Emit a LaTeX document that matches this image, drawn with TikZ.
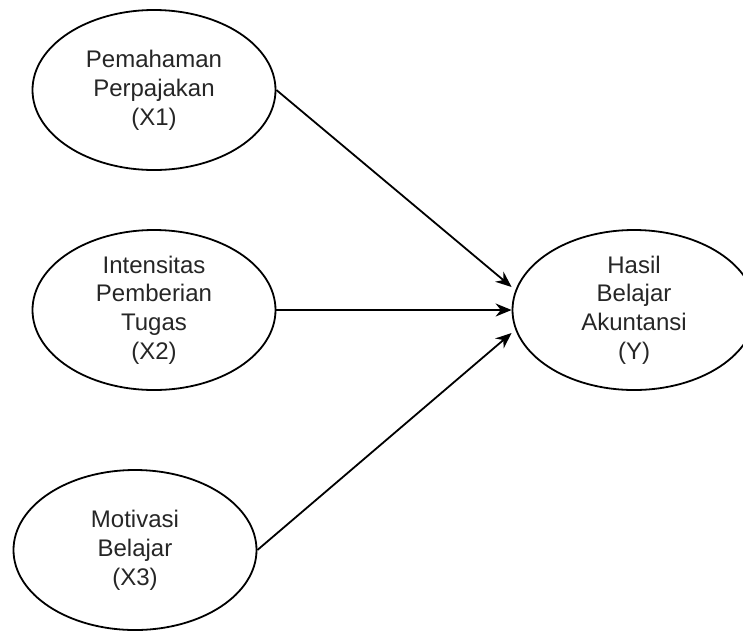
\documentclass[tikz,border=0pt]{standalone}
\usepackage{fontspec}
\setmainfont{Liberation Sans}
\usetikzlibrary{shapes.geometric,arrows.meta}
\begin{document}
\begin{tikzpicture}[x=1pt,y=-1pt,
	var/.style={ellipse,draw,line width=1.8pt,minimum width=243pt,minimum height=160pt,inner sep=0pt,align=center,font=\fontsize{24}{28.8}\selectfont,text=black!85},
	path/.style={line width=1.8pt,-{Stealth[length=16pt,width=13pt]}}]
	\useasboundingbox (0,0) rectangle (743,630);
	\node[var] (x1) at (154,90) {Pemahaman\\Perpajakan\\(X1)};
	\node[var] (x2) at (154,310) {Intensitas\\Pemberian\\Tugas\\(X2)};
	\node[var] (x3) at (135,550) {Motivasi\\Belajar\\(X3)};
	\node[var] (y) at (634,310) {Hasil\\Belajar\\Akuntansi\\(Y)};
	\draw[path] (x1.east) -- ([yshift=23pt]y.west);
	\draw[path] (x2.east) -- (y.west);
	\draw[path] (x3.east) -- ([yshift=-23pt]y.west);
\end{tikzpicture}
\end{document}
